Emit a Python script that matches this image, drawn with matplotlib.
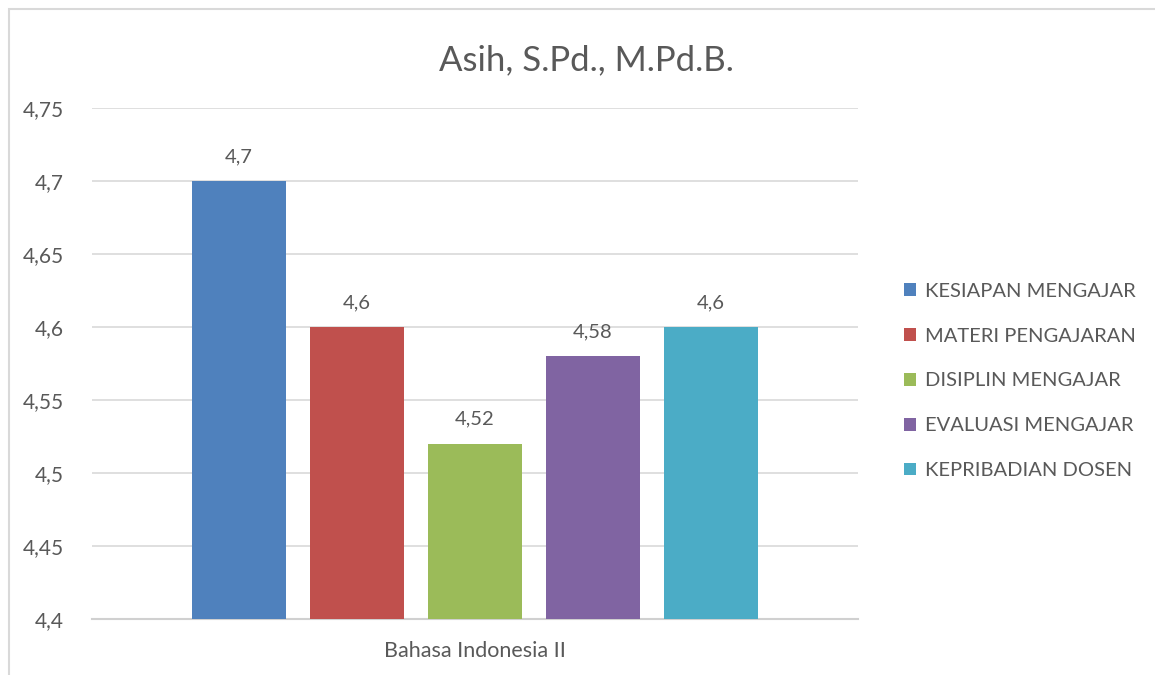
import matplotlib
matplotlib.use("Agg")
import matplotlib.pyplot as plt
from matplotlib.patches import Rectangle

plt.rcParams['font.family'] = ['Lato', 'DejaVu Sans']

title = "Asih, S.Pd., M.Pd.B."
category = "Bahasa Indonesia II"
series = ["KESIAPAN MENGAJAR", "MATERI PENGAJARAN", "DISIPLIN MENGAJAR",
          "EVALUASI MENGAJAR", "KEPRIBADIAN DOSEN"]
values = [4.7, 4.6, 4.52, 4.58, 4.6]
labels = ["4,7", "4,6", "4,52", "4,58", "4,6"]
colors = ["#4F81BD", "#C0504D", "#9BBB59", "#8064A2", "#4BACC6"]
yticks = [4.4, 4.45, 4.5, 4.55, 4.6, 4.65, 4.7, 4.75]
yticklabels = ["4,4", "4,45", "4,5", "4,55", "4,6", "4,65", "4,7", "4,75"]

W, H = 1155, 675
fig = plt.figure(figsize=(W/100, H/100), dpi=100)
fig.patches.append(Rectangle((9/W, -0.2), 1.2, 1.2 - 9/H, transform=fig.transFigure,
                             fill=False, edgecolor="#d9d9d9", linewidth=1.5))
ax = fig.add_axes([92/W, 1 - 619/H, (858-92)/W, (619-108)/H])

txt = "#595959"
xs = list(range(len(values)))
for x, v, c, lab, s in zip(xs, values, colors, labels, series):
    ax.bar(x, v - 4.4, bottom=4.4, width=0.8, color=c, label=s, zorder=3)
    ax.text(x, v + 0.011, lab, ha="center", va="bottom", fontsize=14.5, color=txt)

ax.set_xlim(-1.246, 5.246)
ax.set_ylim(4.4, 4.75)
ax.set_yticks(yticks)
ax.set_yticklabels(yticklabels, fontsize=15, color=txt)
ax.set_xticks([2])
ax.set_xticklabels([category], fontsize=15.5, color=txt)
ax.tick_params(axis="both", length=0)
ax.tick_params(axis="y", pad=20)
ax.tick_params(axis="x", pad=16)
ax.grid(axis="y", color="#d9d9d9", linewidth=1.2, zorder=0)
for sp in ["top", "right", "left"]:
    ax.spines[sp].set_visible(False)
ax.spines["bottom"].set_color("#d0d0d0")
ax.spines["bottom"].set_linewidth(1.5)

fig.text(586/W, 1 - 60/H, title, ha="center", va="center", fontsize=25, color=txt)

leg = ax.legend(loc="center left", bbox_to_anchor=(886/W, 1 - 381/H),
                bbox_transform=fig.transFigure, frameon=False, fontsize=14.5,
                labelcolor=txt, handlelength=0.6, handleheight=0.6,
                handletextpad=0.45, labelspacing=1.38)

fig.savefig("out.png", dpi=100)
